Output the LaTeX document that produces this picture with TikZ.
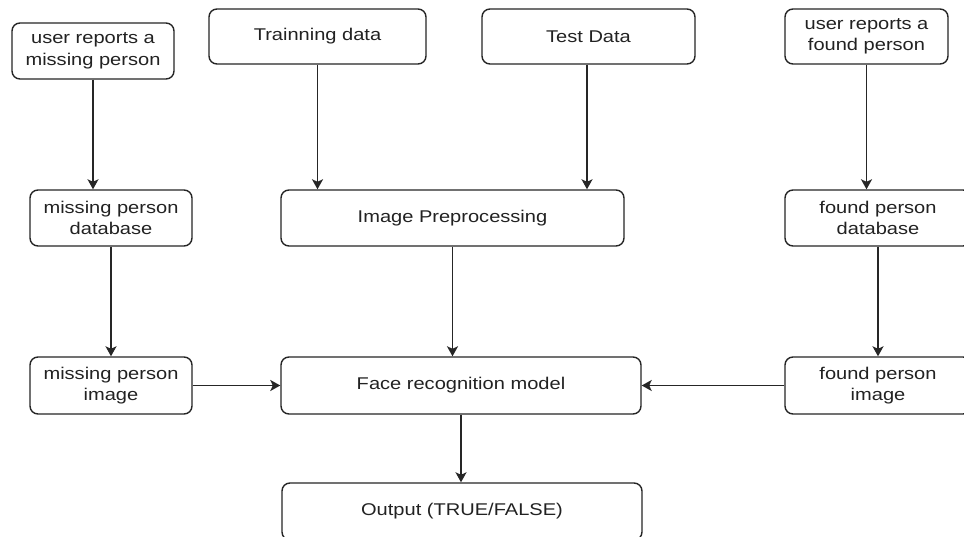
\documentclass[tikz,border=0pt]{standalone}
\usepackage{fontspec}
\setmainfont{Liberation Sans}[FakeStretch=1.18]
\usetikzlibrary{arrows.meta}
\definecolor{txt}{HTML}{222222}
\tikzset{
  box/.style={draw=black!85, line width=1.4pt, rounded corners=8pt, fill=white,
    align=center, inner sep=0pt, text=txt,
    font=\fontsize{17}{21.5}\selectfont},
  conn/.style={line width=1.5pt, draw=black!85,
    -{Stealth[length=10pt,width=11pt,inset=2.5pt]}},
}
\begin{document}
\begin{tikzpicture}[x=1pt,y=-1pt]
\useasboundingbox (0,0) rectangle (964,537);
\clip (0,0) rectangle (964,537);
\fill[white] (0,0) rectangle (964,537);
% top row
\node[box, minimum width=162pt, minimum height=56pt] (urm) at (93,51) {user reports a\\missing person};
\node[box, minimum width=217pt, minimum height=55pt] (train) at (317.5,36.5) {Trainning data};
\node[box, minimum width=213pt, minimum height=55pt] (test) at (588.5,36.5) {Test Data};
\node[box, minimum width=163pt, minimum height=55pt] (urf) at (866.5,36.5) {user reports a\\found person};
% middle row
\node[box, minimum width=162pt, minimum height=56pt] (mdb) at (111,218) {missing person\\database};
\node[box, minimum width=343pt, minimum height=56pt] (pre) at (452.5,218) {Image Preprocessing};
\node[box, minimum width=186pt, minimum height=56pt] (fdb) at (878,218) {found person\\database};
% lower row
\node[box, minimum width=162pt, minimum height=57pt] (mimg) at (111,385.5) {missing person\\image};
\node[box, minimum width=360pt, minimum height=57pt] (face) at (461,385.5) {Face recognition model};
\node[box, minimum width=186pt, minimum height=57pt] (fimg) at (878,385.5) {found person\\image};
% output
\node[box, minimum width=360pt, minimum height=57pt] (out) at (462,511.5) {Output (TRUE/FALSE)};
% connectors
\draw[conn] (urm.south) -- (urm.south |- mdb.north);
\draw[conn] (train.south) -- (train.south |- pre.north);
\draw[conn] ([xshift=-1.5pt]test.south) -- ([xshift=-1.5pt]test.south |- pre.north);
\draw[conn] (urf.south) -- (urf.south |- fdb.north);
\draw[conn] (mdb.south) -- (mimg.north);
\draw[conn] (pre.south) -- (pre.south |- face.north);
\draw[conn] (fdb.south) -- (fimg.north);
\draw[conn] (mimg.east) -- (mimg.east -| face.west);
\draw[conn] (fimg.west) -- (fimg.west -| face.east);
\draw[conn] (face.south) -- (face.south |- out.north);
\end{tikzpicture}
\end{document}
